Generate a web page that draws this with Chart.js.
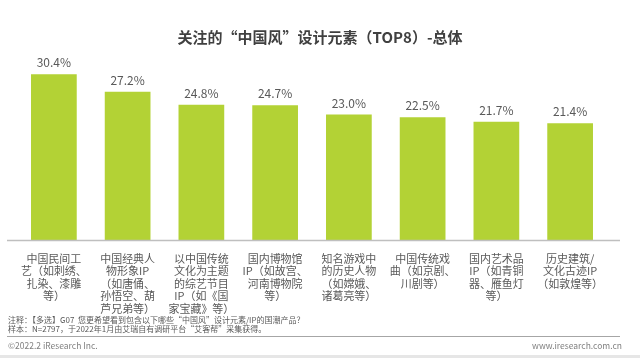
<!DOCTYPE html>
<html><head><meta charset="utf-8">
<script src="https://cdn.jsdelivr.net/npm/chart.js@4"></script>
<style>
body{margin:0;background:#fff;}
#wrap{position:relative;width:640px;height:358px;overflow:hidden;font-family:"Noto Sans CJK SC","Noto Sans",sans-serif;background:#fff;}
canvas{position:absolute;left:0;top:0;}
.t{position:absolute;white-space:nowrap;}
</style></head><body>
<div id="wrap">
<canvas id="c" width="640" height="358"></canvas>
<div class="t" style="left:0;width:640px;text-align:center;top:27px;line-height:20px;font-size:15px;font-weight:bold;color:#404040;">关注的“中国风”设计元素（TOP8）-总体</div>
<div class="t" style="left:8px;top:315px;line-height:10px;font-size:8px;color:#595959;">注释：【多选】G07&nbsp; 您更希望看到包含以下哪些“中国风”设计元素/IP的国潮产品？</div>
<div class="t" style="left:8px;top:324px;line-height:10px;font-size:8px;color:#595959;">样本：N=2797，于2022年1月由艾瑞自有调研平台“艾客帮”采集获得。</div>
<div class="t" style="left:7px;top:336px;width:613px;height:0;border-top:1.5px solid #a6a6a6;"></div>
<div class="t" style="left:8px;top:340px;line-height:10px;font-size:8.5px;color:#7f7f7f;">©2022.2 iResearch Inc.</div>
<div class="t" style="right:18px;top:340px;line-height:10px;font-size:8.5px;color:#7f7f7f;">www.iresearch.com.cn</div>
<div class="t" style="left:0;top:355px;width:640px;height:3px;background:#e6e6e6;"></div>
</div>
<script>
const categories = [
  ["中国民间工","艺（如刺绣、","扎染、漆雕","等）"],
  ["中国经典人","物形象IP","（如唐俑、","孙悟空、葫","芦兄弟等）"],
  ["以中国传统","文化为主题","的综艺节目","IP（如《国","家宝藏》等）"],
  ["国内博物馆","IP（如故宫、","河南博物院","等）"],
  ["知名游戏中","的历史人物","（如嫦娥、","诸葛亮等）"],
  ["中国传统戏","曲（如京剧、","川剧等）"],
  ["国内艺术品","IP（如青铜","器、雁鱼灯","等）"],
  ["历史建筑/","文化古迹IP","（如敦煌等）"]
];
const values = [30.4, 27.2, 24.8, 24.7, 23.0, 22.5, 21.7, 21.4];

const FONT = '"Noto Sans CJK SC","Noto Sans",sans-serif';

const valueLabels = {
  id: 'valueLabels',
  afterDatasetsDraw(chart) {
    const ctx = chart.ctx;
    const meta = chart.getDatasetMeta(0);
    ctx.save();
    ctx.font = '12px ' + FONT;
    ctx.fillStyle = '#595959';
    ctx.textAlign = 'center';
    ctx.textBaseline = 'alphabetic';
    meta.data.forEach((bar, i) => {
      ctx.fillText(values[i].toFixed(1) + '%', bar.x, bar.y - 7);
    });
    ctx.restore();
  }
};
const axisLine = {
  id: 'axisLine',
  afterDatasetsDraw(chart) {
    const ctx = chart.ctx;
    const y = chart.chartArea.bottom + 0.5;
    ctx.save();
    ctx.strokeStyle = '#bfbfbf';
    ctx.lineWidth = 1.5;
    ctx.beginPath();
    ctx.moveTo(7, y);
    ctx.lineTo(620, y);
    ctx.stroke();
    ctx.restore();
  }
};

new Chart(document.getElementById('c'), {
  type: 'bar',
  data: {
    labels: categories,
    datasets: [{
      data: values,
      backgroundColor: '#B3D235',
      borderWidth: 0,
      barPercentage: 0.62,
      categoryPercentage: 1.0
    }]
  },
  options: {
    responsive: false,
    animation: false,
    layout: { padding: { left: 17, right: 33, top: 60, bottom: 0 } },
    plugins: { legend: { display: false }, title: { display: false }, tooltip: { enabled: false } },
    scales: {
      x: {
        grid: { display: false },
        border: { display: false },
        ticks: {
          color: '#595959',
          font: { family: FONT, size: 11, lineHeight: 1.15 },
          padding: 4,
          maxRotation: 0,
          minRotation: 0,
          autoSkip: false
        },
        afterFit(scale) { scale.height = 118; }
      },
      y: { display: false, min: 0, max: 33 }
    }
  },
  plugins: [valueLabels, axisLine]
});
</script>
</body></html>
